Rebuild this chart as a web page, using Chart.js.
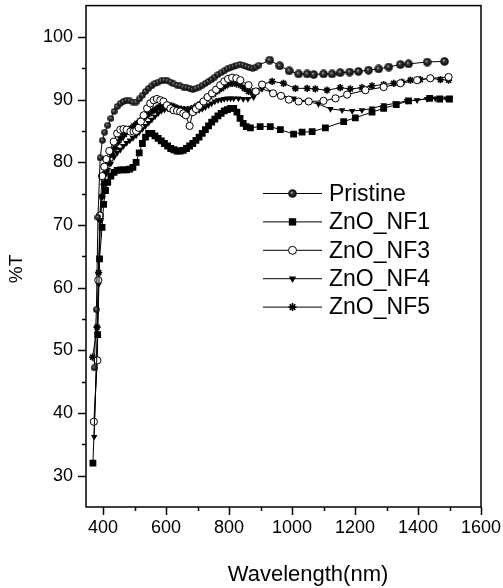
<!DOCTYPE html>
<html>
<head>
<meta charset="utf-8">
<script src="https://cdn.jsdelivr.net/npm/chart.js@4/dist/chart.umd.min.js"></script>
<style>
  body { margin: 0; background: #fff; }
</style>
</head>
<body>
<canvas id="chart" width="503" height="588"></canvas>
<script>
const labels = ['Pristine', 'ZnO_NF1', 'ZnO_NF3', 'ZnO_NF4', 'ZnO_NF5']

const pristineWl = [372, 379, 384, 391, 398, 405, 415, 425, 435, 445, 455, 465, 475, 485, 495, 505, 515, 525, 535, 545,
  555, 565, 575, 585, 595, 605, 615, 625, 635, 645, 655, 665, 675, 685, 695, 705, 715, 725, 735, 745,
  755, 765, 775, 785, 795, 805, 815, 825, 835, 845, 855, 865, 875, 885, 895,
  929, 961, 991, 1021, 1048, 1069, 1100, 1127, 1153, 1183, 1211, 1243, 1275, 1307, 1344, 1370, 1429, 1484]
const pristineT = [47.2, 56.5, 71.2, 80.7, 83.5, 84.8, 85.9, 87.0, 88.1, 88.9, 89.4, 89.7, 89.9, 89.8, 89.6, 89.6, 90.1, 90.7, 91.3, 91.8,
  92.2, 92.6, 92.8, 93.0, 93.1, 93.0, 92.8, 92.5, 92.3, 92.2, 92.0, 91.9, 91.8, 91.6, 91.8, 92.0, 92.3, 92.6, 92.9, 93.2,
  93.6, 94.0, 94.3, 94.6, 94.9, 95.1, 95.3, 95.5, 95.6, 95.5, 95.3, 95.1, 95.0, 95.2, 95.5,
  96.3, 95.4, 94.6, 94.1, 94.1, 94.0, 94.1, 94.1, 94.3, 94.4, 94.5, 94.7, 94.9, 95.2, 95.6, 95.7, 96.0, 96.1]

const nf1Wl = [368, 383, 389, 397, 402, 408, 415, 425, 435, 445, 455, 465, 475, 485, 495, 505, 515, 525, 535, 545,
  555, 565, 575, 585, 595, 605, 615, 625, 635, 645, 655, 665, 675, 685, 695, 705, 715, 725, 735, 745,
  755, 765, 775, 785, 795, 805, 815, 825, 835, 845, 855, 868,
  899, 931, 963, 1005, 1032, 1064, 1106, 1164, 1201, 1254, 1291, 1331, 1370, 1437, 1469, 1500]
const nf1T = [32.0, 52.5, 64.6, 69.6, 73.3, 75.5, 76.8, 77.8, 78.4, 78.7, 78.8, 78.8, 78.8, 78.9, 79.2, 80.0, 81.5, 83.0, 84.0, 84.6,
  84.6, 84.2, 83.8, 83.4, 83.0, 82.6, 82.2, 82.0, 81.8, 81.8, 81.9, 82.2, 82.6, 83.0, 83.5, 84.0, 84.6, 85.2, 85.8, 86.4,
  86.9, 87.4, 87.8, 88.2, 88.4, 88.6, 88.6, 88.0, 87.0, 86.2, 85.7, 85.5,
  85.7, 85.7, 85.2, 84.5, 84.8, 84.9, 85.5, 86.5, 87.1, 88.0, 88.6, 89.2, 89.8, 90.2, 90.1, 90.1]

const nf3Wl = [371, 382, 385, 390, 397, 404, 410, 420, 434, 445, 455, 465, 475, 487, 497, 505, 513, 520, 529, 540,
  550, 561, 571, 582, 592, 603, 614, 624, 635, 645, 655, 663, 675, 685, 695, 705, 719, 732, 746, 759,
  772, 785, 797, 810, 823, 836, 862, 885, 905, 940, 965, 990, 1021, 1053, 1100, 1138, 1175, 1233, 1291, 1344, 1397, 1439, 1497]
const nf3T = [38.6, 48.4, 61.2, 71.5, 77.8, 79.3, 80.5, 81.8, 83.3, 84.6, 85.2, 85.3, 85.2, 84.9, 84.9, 85.0, 85.5, 86.5, 87.5, 88.6,
  89.4, 89.9, 90.1, 89.9, 89.7, 89.1, 88.6, 88.3, 88.2, 88.1, 87.8, 87.5, 85.8, 88.0, 88.5, 89.0, 89.7, 90.4, 91.0, 91.6,
  92.3, 92.9, 93.3, 93.5, 93.4, 93.1, 92.3, 91.3, 92.4, 91.0, 90.6, 90.0, 89.7, 89.7, 89.8, 90.2, 90.8, 91.5, 92.0, 92.6, 93.1, 93.4, 93.6]

const nf4Wl = [372, 379, 386, 391, 396, 402, 408, 415, 425, 435, 445, 455, 465, 475, 485, 495, 505, 515, 525, 535,
  545, 555, 565, 575, 585, 595, 605, 615, 625, 635, 645, 655, 665, 675, 685, 695, 705, 715, 725, 735,
  745, 755, 765, 775, 785, 795, 805, 815, 830, 845, 860, 878,
  905, 935, 965, 1005, 1050, 1084, 1122, 1159, 1191, 1222, 1254, 1291, 1328, 1365, 1397, 1429, 1455, 1490]
const nf4T = [36.2, 48.5, 60.5, 70.5, 74.5, 76.8, 78.0, 78.8, 79.8, 80.8, 81.5, 82.0, 82.6, 83.1, 83.5, 83.9, 84.3, 84.8, 85.3, 85.8,
  86.3, 86.8, 87.3, 87.8, 88.2, 88.4, 88.6, 88.6, 88.5, 88.3, 88.2, 88.1, 88.0, 88.0, 88.0, 88.1, 88.3, 88.5, 88.8, 89.1,
  89.4, 89.7, 89.9, 90.0, 90.1, 90.2, 90.2, 90.2, 90.2, 90.1, 90.1, 90.4,
  91.7, 91.2, 90.7, 90.2, 89.7, 89.3, 88.5, 88.3, 88.2, 88.3, 88.6, 89.1, 89.4, 89.8, 89.9, 90.1, 90.2, 90.2]

const nf5Wl = [367, 381, 386, 392, 397, 403, 410, 418, 428, 438, 448, 458, 468, 478, 488, 498, 508, 518, 528, 538,
  548, 558, 568, 578, 588, 598, 608, 618, 628, 638, 648, 658, 668, 678, 688, 698, 708, 718, 728, 738,
  751, 764, 776, 788, 799, 810, 823, 836, 849, 862, 875, 888,
  905, 937, 973, 1011, 1048, 1074, 1111, 1153, 1185, 1222, 1254, 1291, 1323, 1349, 1376, 1407, 1439, 1471, 1497]
const nf5T = [48.9, 53.7, 62.4, 71.0, 74.5, 76.5, 78.5, 80.0, 81.3, 82.3, 83.2, 83.9, 84.5, 85.0, 85.4, 85.8, 86.2, 86.6, 87.0, 87.4,
  87.8, 88.2, 88.5, 88.8, 89.0, 89.1, 89.1, 89.0, 88.8, 88.6, 88.5, 88.4, 88.4, 88.5, 88.7, 89.0, 89.3, 89.7, 90.1, 90.5,
  90.9, 91.4, 91.8, 92.2, 92.5, 92.6, 92.5, 92.3, 91.8, 91.3, 91.1, 91.3,
  92.4, 92.9, 92.6, 91.8, 91.8, 91.7, 91.5, 91.9, 91.7, 91.9, 92.2, 92.4, 92.6, 92.8, 93.1, 93.2, 93.4, 93.2, 93.1]

const xTicks = [400, 600, 800, 1000, 1200, 1400, 1600]
const yTicks = [30, 40, 50, 60, 70, 80, 90, 100]
const xTitle = 'Wavelength(nm)'
const yTitle = '%T'

const FONT = "'Liberation Sans', Arial, sans-serif"
Chart.defaults.font.family = FONT
Chart.defaults.color = '#000'

// shaded black ball used for the Pristine markers
const makeBall = (d) => {
  const c = document.createElement('canvas')
  c.width = d
  c.height = d
  const g = c.getContext('2d')
  const r = d / 2
  const grad = g.createRadialGradient(r * 0.8, r * 0.75, 0, r, r, r)
  grad.addColorStop(0, '#c8c8c8')
  grad.addColorStop(0.3, '#3a3a3a')
  grad.addColorStop(1, '#000')
  g.fillStyle = grad
  g.beginPath()
  g.arc(r, r, r - 0.2, 0, Math.PI * 2)
  g.fill()
  return c
}
const smallBall = makeBall(7)
const bigBall = makeBall(9)

const pts = (xs, ys) => xs.map((x, i) => ({ x, y: ys[i] }))

const series = [
  { wl: pristineWl, t: pristineT, style: (c) => (c.raw && c.raw.x > 900 ? bigBall : smallBall), legendStyle: bigBall, radius: 4, fill: '#000', bw: 0 },
  { wl: nf1Wl, t: nf1T, style: 'rect', legendStyle: 'rect', radius: 4.8, fill: '#000', bw: 0 },
  { wl: nf3Wl, t: nf3T, style: 'circle', legendStyle: 'circle', radius: 3.6, fill: '#fff', bw: 1 },
  { wl: nf4Wl, t: nf4T, style: 'triangle', legendStyle: 'triangle', radius: 3.8, fill: '#000', bw: 0, rot: 180 },
  { wl: nf5Wl, t: nf5T, style: 'star', legendStyle: 'star', radius: 3.6, fill: '#000', bw: 1.6 }
]

const datasets = series.map((s, i) => ({
  label: labels[i],
  data: pts(s.wl, s.t),
  borderColor: '#000',
  borderWidth: 1,
  pointStyle: s.style,
  legendStyle: s.legendStyle,
  pointRadius: s.radius,
  pointRotation: s.rot || 0,
  pointBackgroundColor: s.fill,
  pointBorderColor: '#000',
  pointBorderWidth: s.bw,
  tension: 0
}))

const lineLegend = {
  id: 'lineLegend',
  afterDraw (chart) {
    const { ctx } = chart
    ctx.save()
    chart.data.datasets.forEach((ds, i) => {
      const y = 193.5 + i * 28.4
      ctx.strokeStyle = '#000'
      ctx.lineWidth = 1
      ctx.beginPath()
      ctx.moveTo(263, y)
      ctx.lineTo(322, y)
      ctx.stroke()
      ctx.fillStyle = ds.pointBackgroundColor
      ctx.lineWidth = ds.pointBorderWidth
      Chart.helpers.drawPoint(ctx, {
        pointStyle: ds.legendStyle,
        radius: ds.pointRadius + 0.4,
        rotation: ds.pointRotation,
        borderWidth: ds.pointBorderWidth
      }, 292.5, y)
      ctx.fillStyle = '#000'
      ctx.font = '23px ' + FONT
      ctx.textBaseline = 'middle'
      ctx.fillText(ds.label, 329, y + 1)
    })
    ctx.restore()
  }
}

// box around the plot with outward major and minor ticks, plus the axis titles
const frame = {
  id: 'frame',
  afterDraw (chart) {
    const { ctx, chartArea: a, scales: { x, y } } = chart
    ctx.save()
    ctx.strokeStyle = '#000'
    ctx.lineWidth = 1.5
    ctx.strokeRect(a.left, a.top, a.right - a.left, a.bottom - a.top)
    ctx.beginPath()
    xTicks.forEach((v, i) => {
      const px = Math.round(x.getPixelForValue(v)) + 0.5
      ctx.moveTo(px, a.bottom)
      ctx.lineTo(px, a.bottom + 8)
      if (i < xTicks.length - 1) {
        const mx = Math.round(x.getPixelForValue(v + 100)) + 0.5
        ctx.moveTo(mx, a.bottom)
        ctx.lineTo(mx, a.bottom + 4)
      }
    })
    yTicks.forEach((v, i) => {
      const py = Math.round(y.getPixelForValue(v)) + 0.5
      ctx.moveTo(a.left, py)
      ctx.lineTo(a.left - 8, py)
      if (i < yTicks.length - 1) {
        const my = Math.round(y.getPixelForValue(v + 5)) + 0.5
        ctx.moveTo(a.left, my)
        ctx.lineTo(a.left - 4, my)
      }
    })
    ctx.stroke()

    ctx.fillStyle = '#000'
    ctx.textAlign = 'center'
    ctx.textBaseline = 'middle'
    ctx.font = '22px ' + FONT
    ctx.fillText(xTitle, 308, 575)
    ctx.translate(17, 269)
    ctx.rotate(-Math.PI / 2)
    ctx.font = '19px ' + FONT
    ctx.fillText(yTitle, 0, 0)
    ctx.restore()
  }
}

new Chart(document.getElementById('chart').getContext('2d'), {
  type: 'line',
  data: { datasets },
  options: {
    responsive: false,
    animation: false,
    layout: { padding: { top: 4, right: 22, left: 0, bottom: 0 } },
    plugins: {
      legend: { display: false },
      tooltip: { enabled: false }
    },
    scales: {
      x: {
        type: 'linear',
        min: 346,
        max: 1600,
        grid: { display: false, drawTicks: false },
        border: { display: false },
        afterBuildTicks: (s) => { s.ticks = xTicks.map(v => ({ value: v })) },
        afterFit: (s) => { s.height = 81; s.paddingLeft = 0; s.paddingRight = 0 },
        ticks: { font: { size: 18 }, padding: 10, maxRotation: 0, autoSkip: false, callback: (v) => String(v) }
      },
      y: {
        min: 25,
        max: 105,
        grid: { display: false, drawTicks: false },
        border: { display: false },
        afterBuildTicks: (s) => { s.ticks = yTicks.map(v => ({ value: v })) },
        afterFit: (s) => { s.width = 86; s.paddingTop = 0; s.paddingBottom = 0 },
        ticks: { font: { size: 18 }, padding: 13 }
      }
    }
  },
  plugins: [frame, lineLegend]
})
</script>
</body>
</html>
